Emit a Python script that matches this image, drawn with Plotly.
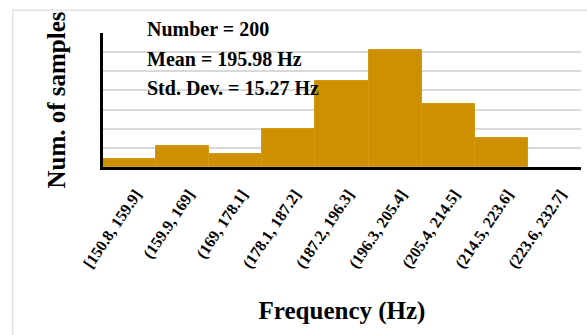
import plotly.graph_objects as go

# Histogram bins (Hz) and sample counts per bin
bin_labels = [
    "[150.8, 159.9]", "(159.9, 169]", "(169, 178.1]", "(178.1, 187.2]",
    "(187.2, 196.3]", "(196.3, 205.4]", "(205.4, 214.5]", "(214.5, 223.6]",
    "(223.6, 232.7]",
]
counts = [4, 11, 7, 20, 45, 61, 33, 15, 0]

stats_lines = ["Number = 200", "Mean = 195.98 Hz", "Std. Dev. = 15.27 Hz"]

SERIF = "Liberation Serif"
BAR_COLOR = "#CC9000"

fig = go.Figure(
    go.Bar(
        x=bin_labels,
        y=counts,
        marker=dict(
            color=BAR_COLOR,
            line=dict(color="#D69A12", width=[1 if c > 0 else 0 for c in counts]),
        ),
        hoverinfo="x+y",
    )
)

fig.update_layout(
    width=587,
    height=335,
    margin=dict(l=103, r=6, t=33, b=168),
    paper_bgcolor="white",
    plot_bgcolor="white",
    bargap=0,
    showlegend=False,
    font=dict(family=SERIF, color="black"),
)

fig.update_xaxes(
    type="category",
    showline=True,
    linecolor="black",
    linewidth=2.5,
    showgrid=False,
    ticks="",
    tickangle=-56,
    ticklabelstandoff=9,
    ticklabelshift=6,
    tickfont=dict(family=SERIF, size=16, color="black", weight="bold"),
    title=dict(
        text="<b>Frequency (Hz)</b>",
        font=dict(family=SERIF, size=25, color="black"),
        standoff=31,
    ),
    range=[-0.5, len(bin_labels) - 0.5],
)

fig.update_yaxes(
    range=[0, 70],
    dtick=10,
    showgrid=True,
    gridcolor="#D9D9D9",
    gridwidth=1.5,
    showline=True,
    linecolor="black",
    linewidth=2.5,
    showticklabels=False,
    ticks="",
    zeroline=False,
    title=dict(
        text="<b>Num. of samples</b>",
        font=dict(family=SERIF, size=25, color="black"),
        standoff=28,
    ),
)

# Summary statistics printed inside the plot
for i, line in enumerate(stats_lines):
    fig.add_annotation(
        text=f"<b>{line}</b>",
        xref="paper", yref="paper",
        x=0.088, y=1.03 - i * 0.222,
        xanchor="left", yanchor="middle",
        showarrow=False,
        font=dict(family=SERIF, size=20, color="black"),
    )

# Light chart-area border
fig.add_shape(
    type="rect",
    xref="paper", yref="paper",
    x0=-0.189, x1=1.05, y0=-1.4, y1=1.17,
    line=dict(color="#E3E3E3", width=1.5),
    layer="below",
)

fig.write_html("out.html")
